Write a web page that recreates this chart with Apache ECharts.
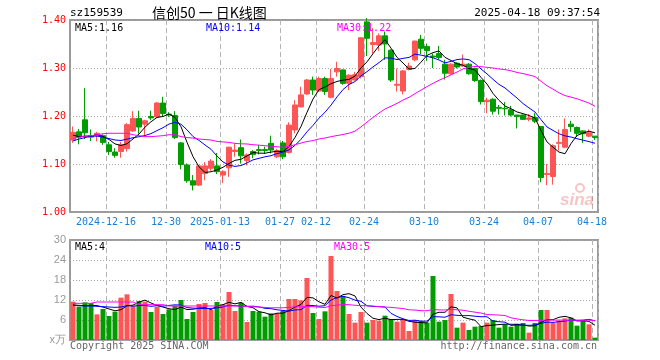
<!DOCTYPE html>
<html><head><meta charset="utf-8">
<script src="https://cdn.jsdelivr.net/npm/echarts@6/dist/echarts.min.js"></script>
<style>html,body{margin:0;padding:0;background:#fff}#c{width:660px;height:360px}</style>
</head><body><div id="c"></div>
<script>
const dates = [
'2024-12-06','2024-12-09','2024-12-10','2024-12-11','2024-12-12','2024-12-13','2024-12-16','2024-12-17','2024-12-18','2024-12-19','2024-12-20','2024-12-23','2024-12-24','2024-12-25','2024-12-26','2024-12-27','2024-12-30','2024-12-31',
'2025-01-02','2025-01-03','2025-01-06','2025-01-07','2025-01-08','2025-01-09','2025-01-10','2025-01-13','2025-01-14','2025-01-15','2025-01-16','2025-01-17','2025-01-20','2025-01-21','2025-01-22','2025-01-23','2025-01-24','2025-01-27',
'2025-02-05','2025-02-06','2025-02-07','2025-02-10','2025-02-11','2025-02-12','2025-02-13','2025-02-14','2025-02-17','2025-02-18','2025-02-19','2025-02-20','2025-02-21','2025-02-24','2025-02-25','2025-02-26','2025-02-27','2025-02-28',
'2025-03-03','2025-03-04','2025-03-05','2025-03-06','2025-03-07','2025-03-10','2025-03-11','2025-03-12','2025-03-13','2025-03-14','2025-03-17','2025-03-18','2025-03-19','2025-03-20','2025-03-21','2025-03-24','2025-03-25','2025-03-26','2025-03-27','2025-03-28','2025-03-31',
'2025-04-01','2025-04-02','2025-04-03','2025-04-07','2025-04-08','2025-04-09','2025-04-10','2025-04-11','2025-04-14','2025-04-15','2025-04-16','2025-04-17','2025-04-18'];

const opens = [1.150,1.167,1.192,1.159,1.160,1.159,1.140,1.125,1.126,1.132,1.169,1.195,1.183,1.199,1.198,1.227,1.204,1.201,
1.144,1.098,1.065,1.056,1.080,1.091,1.096,1.077,1.092,1.126,1.134,1.107,1.126,1.130,1.130,1.143,1.115,1.144,
1.124,1.171,1.219,1.246,1.275,1.252,1.278,1.239,1.292,1.296,1.268,1.275,1.282,1.396,1.349,1.348,1.367,1.337,
1.264,1.252,1.297,1.317,1.360,1.345,1.325,1.330,1.308,1.288,1.310,1.304,1.308,1.299,1.274,1.230,1.235,1.218,1.216,1.213,1.202,
1.202,1.193,1.197,1.178,1.078,1.074,1.143,1.135,1.183,1.176,1.169,1.158,1.158];
const closes = [1.166,1.156,1.165,1.156,1.164,1.145,1.126,1.118,1.140,1.182,1.195,1.177,1.190,1.196,1.227,1.205,1.202,1.155,
1.099,1.065,1.056,1.096,1.096,1.106,1.084,1.084,1.135,1.129,1.117,1.119,1.120,1.128,1.128,1.129,1.128,1.115,
1.181,1.223,1.244,1.275,1.254,1.278,1.251,1.278,1.299,1.268,1.285,1.286,1.363,1.362,1.353,1.367,1.350,1.275,
1.266,1.294,1.304,1.356,1.341,1.336,1.323,1.322,1.289,1.308,1.302,1.308,1.288,1.274,1.230,1.233,1.210,1.216,1.215,1.202,1.199,
1.193,1.196,1.189,1.072,1.080,1.138,1.145,1.172,1.178,1.164,1.163,1.165,1.155];
const lows = [1.144,1.141,1.152,1.148,1.147,1.140,1.119,1.113,1.113,1.126,1.167,1.163,1.160,1.192,1.196,1.200,1.198,1.152,
1.089,1.061,1.045,1.055,1.066,1.086,1.079,1.060,1.073,1.115,1.101,1.097,1.112,1.120,1.121,1.122,1.112,1.110,
1.122,1.164,1.218,1.244,1.244,1.251,1.244,1.237,1.282,1.265,1.254,1.274,1.278,1.325,1.330,1.336,1.317,1.271,
1.251,1.245,1.295,1.314,1.329,1.315,1.300,1.318,1.276,1.286,1.299,1.303,1.286,1.271,1.224,1.206,1.203,1.203,1.201,1.199,1.174,
1.192,1.189,1.185,1.062,1.056,1.057,1.128,1.133,1.167,1.156,1.144,1.156,1.150];
const highs = [1.178,1.173,1.258,1.172,1.167,1.162,1.146,1.133,1.146,1.185,1.210,1.211,1.192,1.211,1.229,1.240,1.208,1.210,
1.146,1.101,1.077,1.098,1.104,1.110,1.123,1.087,1.136,1.143,1.151,1.122,1.129,1.140,1.136,1.159,1.131,1.148,
1.187,1.233,1.261,1.277,1.282,1.282,1.282,1.298,1.313,1.297,1.287,1.292,1.364,1.404,1.383,1.372,1.376,1.339,
1.299,1.296,1.311,1.357,1.369,1.351,1.330,1.346,1.317,1.310,1.312,1.328,1.310,1.301,1.276,1.238,1.237,1.223,1.229,1.221,1.202,
1.203,1.204,1.206,1.178,1.100,1.141,1.172,1.195,1.190,1.178,1.170,1.172,1.158];
const volumes = [11.5,10.0,11.3,11.1,7.7,9.3,7.2,8.5,12.7,13.7,10.2,11.7,11.5,8.4,10.0,7.8,9.2,10.3,
12.0,6.3,8.4,10.8,11.1,9.0,11.4,10.7,14.4,8.7,11.2,5.4,8.7,8.5,7.0,8.0,8.0,8.8,
12.3,12.3,11.9,18.6,8.1,6.3,8.6,25.2,14.7,13.2,7.8,5.2,8.4,5.2,6.0,5.8,7.3,6.3,
5.5,6.2,2.7,6.0,5.7,5.2,19.2,5.5,6.0,13.8,3.7,5.2,3.0,4.0,4.2,5.2,6.0,3.7,4.7,4.0,4.9,
5.1,2.2,5.1,9.0,9.0,5.2,5.8,6.5,6.7,4.3,5.7,4.7,0.7];

// moving-average values before the full window is available
const priceMA5Start = [1.160,1.157,1.158,1.158];
const priceMA10Start = [1.148,1.152,1.155,1.158,1.158,1.156,1.153,1.150,1.149];
const priceMA30Start = [1.153,1.156,1.158,1.159,1.161,1.163,1.164,1.164,1.164,1.164,1.161,1.159,1.157,1.157,1.158,1.159,1.161,1.161,1.157,1.155,1.154,1.152,1.151,1.150,1.147,1.146,1.145,1.143,1.142];
const volMA5Start = [10.5,10.4,10.3,10.4];
const volMA10Start = [10.4,10.3,10.2,10.2,10.1,10.0,9.9,9.8,9.9];
const volMA30Start = [11.0,11.0,11.0,11.0,11.4,11.4,11.4,11.4,11.4,11.4,11.4,10.6,10.6,10.6,10.6,10.6,10.2,10.2,10.2,10.2,10.2,10.2,10.2,10.2,10.2,10.2,10.2,10.2,10.2];

const axisLabelMap = {'2024-12-16':'2024-12-16','2024-12-30':'12-30','2025-01-13':'2025-01-13','2025-01-27':'01-27','2025-02-12':'02-12','2025-02-24':'02-24','2025-03-10':'03-10','2025-03-24':'03-24','2025-04-07':'04-07','2025-04-18':'04-18'};
const priceTicks = ['1.00','1.10','1.20','1.30','1.40'];
const volTicks = ['x万','6','12','18','24','30'];
const headerTexts = {code:'sz159539', title:'信创50 一 日K线图', time:'2025-04-18 09:37:54',
  ma5:'MA5:1.16', ma10:'MA10:1.14', ma30:'MA30:1.22', vma5:'MA5:4', vma10:'MA10:5', vma30:'MA30:5'};

function movingAvg(vals, n, start) {
  return vals.map((v, i) => {
    if (i < n - 1) return start[i];
    let s = 0; for (let k = i - n + 1; k <= i; k++) s += vals[k];
    return +(s / n).toFixed(4);
  });
}

const UP = '#ff5555', DOWN = '#009c00';
const MONO = '"DejaVu Sans Mono", "Liberation Mono", monospace';
const isLabel = (idx, val) => axisLabelMap[dates[idx]] !== undefined;

const kData = dates.map((d, i) => [opens[i], closes[i], lows[i], highs[i]]);
const volData = volumes.map((v, i) => ({value: v, itemStyle: {color: closes[i] >= opens[i] ? UP : DOWN}}));

const chart = echarts.init(document.getElementById('c'), null, {renderer: 'canvas'});
const lineS = (name, data, color, xi, yi) => ({name, type: 'line', data, xAxisIndex: xi, yAxisIndex: yi,
  symbol: 'none', smooth: false, lineStyle: {color, width: 1}, z: 5, silent: true, animation: false});

const xBase = (gi, showLabel) => ({
  type: 'category', gridIndex: gi, data: dates, boundaryGap: true,
  axisLine: {show: false}, axisTick: {show: false},
  splitLine: {show: true, interval: isLabel, lineStyle: {color: '#b4b4b4', width: 1, type: [5, 3]}},
  axisLabel: {show: showLabel, interval: isLabel, formatter: v => axisLabelMap[v] || '',
    color: '#1a7fd4', fontFamily: MONO, fontSize: 10, margin: 5, padding: [0, 6, 0, 0]}
});

chart.setOption({
  animation: false,
  backgroundColor: '#fff',
  grid: [
    {left: 70, top: 20, width: 528, height: 192, show: true, borderColor: '#9a9a9a', borderWidth: 2, backgroundColor: 'transparent'},
    {left: 70, top: 240, width: 528, height: 100, show: true, borderColor: '#9a9a9a', borderWidth: 2, backgroundColor: 'transparent'}
  ],
  xAxis: [xBase(0, true), xBase(1, false)],
  yAxis: [
    {type: 'value', gridIndex: 0, min: 1.0, max: 1.4, interval: 0.1, position: 'left',
     axisLine: {show: false}, axisTick: {show: false},
     splitLine: {show: true, lineStyle: {color: '#a8a8a8', type: [1, 2], width: 1}},
     axisLabel: {color: '#ff0000', fontFamily: MONO, fontSize: 10, margin: 4,
       formatter: v => priceTicks[Math.round((v - 1.0) * 10)]}},
    {type: 'value', gridIndex: 1, min: 0, max: 30, interval: 6, position: 'left',
     axisLine: {show: false}, axisTick: {show: false},
     splitLine: {show: true, lineStyle: {color: '#a8a8a8', type: [1, 2], width: 1}},
     axisLabel: {color: '#9a9a9a', fontFamily: 'Liberation Sans, Arial, sans-serif', fontSize: 11, margin: 4,
       formatter: v => volTicks[Math.round(v / 6)]}}
  ],
  series: [
    {type: 'candlestick', data: kData, xAxisIndex: 0, yAxisIndex: 0, barWidth: 5, z: 3,
     itemStyle: {color: UP, color0: DOWN, borderColor: UP, borderColor0: DOWN, borderWidth: 1}},
    lineS('MA5', movingAvg(closes, 5, priceMA5Start), '#000000', 0, 0),
    lineS('MA10', movingAvg(closes, 10, priceMA10Start), '#0000ff', 0, 0),
    lineS('MA30', movingAvg(closes, 30, priceMA30Start), '#ff00ff', 0, 0),
    {type: 'bar', data: volData, xAxisIndex: 1, yAxisIndex: 1, barWidth: 5, z: 3},
    lineS('VMA5', movingAvg(volumes, 5, volMA5Start), '#000000', 1, 1),
    lineS('VMA10', movingAvg(volumes, 10, volMA10Start), '#0000ff', 1, 1),
    lineS('VMA30', movingAvg(volumes, 30, volMA30Start), '#ff00ff', 1, 1)
  ],
  graphic: [
    {type: 'text', x: 70, y: 13, style: {text: headerTexts.code, fill: '#000', font: '11px ' + MONO, verticalAlign: 'middle'}},
    {type: 'text', x: 152, y: 13, style: {text: headerTexts.title, fill: '#000', font: '14px "Noto Sans CJK SC"', verticalAlign: 'middle'}},
    {type: 'text', x: 600, y: 13, style: {text: headerTexts.time, fill: '#000', font: '11px ' + MONO, align: 'right', verticalAlign: 'middle'}},
    {type: 'text', x: 75, y: 28, z: 10, style: {text: headerTexts.ma5, fill: '#000', font: '10px ' + MONO, verticalAlign: 'middle'}},
    {type: 'text', x: 206, y: 28, z: 10, style: {text: headerTexts.ma10, fill: '#0000ff', font: '10px ' + MONO, verticalAlign: 'middle'}},
    {type: 'text', x: 337, y: 28, z: 10, style: {text: headerTexts.ma30, fill: '#ff00ff', font: '10px ' + MONO, verticalAlign: 'middle'}},
    {type: 'text', x: 75, y: 247, z: 10, style: {text: headerTexts.vma5, fill: '#000', font: '10px ' + MONO, verticalAlign: 'middle'}},
    {type: 'text', x: 205, y: 247, z: 10, style: {text: headerTexts.vma10, fill: '#0000ff', font: '10px ' + MONO, verticalAlign: 'middle'}},
    {type: 'text', x: 334, y: 247, z: 10, style: {text: headerTexts.vma30, fill: '#ff00ff', font: '10px ' + MONO, verticalAlign: 'middle'}},
    {type: 'text', x: 70, y: 346, style: {text: 'Copyright 2025 SINA.COM', fill: '#666', font: '10px ' + MONO, verticalAlign: 'middle'}},
    {type: 'text', x: 597, y: 346, style: {text: 'http://finance.sina.com.cn', fill: '#666', font: '10px ' + MONO, align: 'right', verticalAlign: 'middle'}},
    {type: 'text', x: 594, y: 200, z: 1, style: {text: 'sina', fill: 'rgba(225,90,90,0.35)', font: 'italic bold 17px "Liberation Sans"', align: 'right', verticalAlign: 'middle'}},
    {type: 'circle', shape: {cx: 580, cy: 188, r: 4}, z: 1, style: {fill: 'none', stroke: 'rgba(225,90,90,0.35)', lineWidth: 2}}
  ]
});
</script></body></html>
